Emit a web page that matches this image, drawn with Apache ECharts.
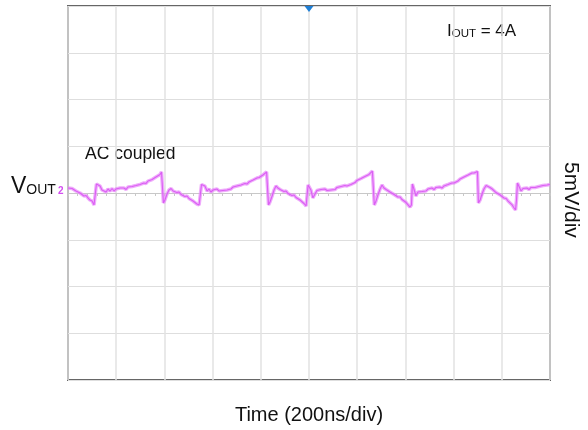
<!DOCTYPE html>
<html>
<head>
<meta charset="utf-8">
<script src="https://cdn.jsdelivr.net/npm/echarts@6/dist/echarts.min.js"></script>
<style>
html,body{margin:0;padding:0;background:#fff;}
#chart{width:588px;height:430px;}
</style>
</head>
<body>
<div id="chart"></div>
<script>
// Time axis: 10 divisions x 200 ns; voltage axis: 8 divisions x 5 mV (AC coupled)
const timeNs = [0,8,17,25,33,41,50,58,66,75,83,91,100,108,112,118,124,133,141,149,158,166,174,183,191,199,207,216,224,232,241,249,257,266,274,282,290,299,307,315,324,332,340,349,357,365,373,382,388,392,396,402,411,419,428,436,444,452,461,469,477,485,494,502,510,519,527,535,544,548,554,560,568,577,585,593,602,610,618,627,635,643,651,660,668,676,685,693,701,709,718,726,734,743,751,759,768,776,784,793,801,809,817,824,828,832,838,847,855,863,871,880,888,896,905,913,921,929,938,946,954,963,971,979,988,992,996,1002,1008,1016,1025,1033,1041,1050,1058,1066,1075,1083,1091,1099,1108,1116,1124,1133,1141,1149,1158,1166,1174,1182,1191,1199,1207,1216,1224,1232,1240,1249,1257,1263,1267,1271,1278,1286,1295,1303,1311,1320,1328,1336,1344,1353,1361,1369,1378,1386,1394,1403,1411,1419,1425,1429,1436,1444,1452,1460,1469,1477,1485,1494,1502,1510,1519,1527,1535,1543,1552,1560,1568,1577,1585,1593,1602,1610,1618,1627,1635,1643,1651,1660,1668,1676,1685,1693,1699,1703,1710,1718,1726,1735,1743,1751,1760,1768,1776,1784,1793,1801,1809,1818,1826,1834,1843,1851,1857,1861,1865,1872,1880,1888,1896,1904,1913,1921,1929,1938,1946,1954,1962,1971,1979,1988,1996,2000];
const voutMv = [0.53,0.37,0.48,0.32,0.21,0.27,0.0,-0.11,-0.32,-0.27,-0.53,-0.75,-0.86,-1.28,-1.07,0.96,1.12,0.75,0.32,0.53,0.11,0.43,0.21,0.48,0.21,0.43,0.27,0.53,0.32,0.53,0.37,0.64,0.48,0.70,0.53,0.80,0.70,0.91,0.86,1.07,1.02,1.28,1.23,1.44,1.50,1.71,1.82,1.98,2.25,2.14,-1.07,-0.75,-0.11,0.32,0.48,0.21,0.27,0.05,0.11,-0.16,-0.11,-0.37,-0.32,-0.59,-0.53,-0.86,-0.91,-1.18,-1.28,-1.07,0.91,1.12,0.75,0.21,0.43,0.11,0.32,0.16,0.43,0.21,0.37,0.27,0.48,0.32,0.53,0.43,0.64,0.53,0.75,0.64,0.86,0.80,1.02,0.96,1.18,1.18,1.39,1.44,1.60,1.66,1.82,1.93,2.03,2.25,2.14,-1.28,-0.96,-0.32,0.32,0.75,0.53,0.37,0.43,0.16,0.21,-0.05,0.0,-0.27,-0.21,-0.48,-0.48,-0.75,-0.86,-1.12,-1.39,-1.18,0.86,1.02,0.32,-0.53,-0.11,0.27,0.16,0.37,0.21,0.43,0.27,0.48,0.32,0.53,0.37,0.59,0.48,0.70,0.59,0.80,0.75,0.96,0.91,1.12,1.12,1.34,1.34,1.55,1.60,1.76,1.87,1.98,2.14,2.35,2.25,-1.28,-0.86,-0.21,0.43,0.86,0.53,0.37,0.32,0.11,0.11,-0.16,-0.16,-0.43,-0.43,-0.70,-0.75,-1.02,-1.18,-1.50,-1.28,0.96,1.12,-0.32,0.11,0.32,0.16,0.37,0.21,0.43,0.32,0.53,0.37,0.59,0.43,0.64,0.53,0.75,0.70,0.91,0.86,1.07,1.07,1.28,1.28,1.50,1.55,1.71,1.82,1.93,1.98,2.14,2.14,2.25,2.30,-1.07,-0.75,-0.11,0.43,0.80,0.96,0.59,0.43,0.32,0.05,0.05,-0.21,-0.27,-0.53,-0.59,-0.86,-1.02,-1.28,-1.60,-1.82,-0.75,1.07,0.91,0.21,0.48,0.32,0.53,0.37,0.59,0.43,0.59,0.48,0.70,0.59,0.80,0.64,0.86,0.80,0.91];
const xMin = 0, xMax = 2000, xStep = 200;
const yMin = -20, yMax = 20, yStep = 5;
const triggerMarker = [1000, 20];

const traceData = timeNs.map((t, i) => [t, voutMv[i]]);

const chart = echarts.init(document.getElementById('chart'), null, {renderer: 'canvas'});
const font = '"Liberation Sans", Arial, sans-serif';

chart.setOption({
  backgroundColor: '#fff',
  animation: false,
  grid: {left: 68, right: 38, top: 6, bottom: 50, containLabel: false, outerBoundsMode: 'none',
         show: true, borderColor: '#666666', borderWidth: 2, backgroundColor: 'transparent'},
  xAxis: [
    {
      type: 'value', min: xMin, max: xMax, interval: xStep,
      axisLine: {show: false, onZero: false},
      axisTick: {show: false}, axisLabel: {show: false},
      splitLine: {show: true, lineStyle: {color: '#e2e2e2', width: 1.5}},
      name: 'Time (200ns/div)', nameLocation: 'middle', nameGap: 25,
      nameTextStyle: {fontFamily: font, fontSize: 20, color: '#111'}
    },
    {
      type: 'value', min: xMin, max: xMax, interval: xStep,
      axisLine: {show: true, onZero: true, lineStyle: {color: '#c8c8c8', width: 1}},
      axisTick: {show: true, inside: true, length: 3, lineStyle: {color: '#c8c8c8'}},
      minorTick: {show: true, splitNumber: 5, length: 3, lineStyle: {color: '#c8c8c8'}},
      axisLabel: {show: false}, splitLine: {show: false}
    }
  ],
  yAxis: [
    {
      type: 'value', min: yMin, max: yMax, interval: yStep,
      axisLine: {show: false, onZero: false},
      axisTick: {show: false}, axisLabel: {show: false},
      splitLine: {show: true, lineStyle: {color: '#dedede', width: 1}}
    }
  ],
  series: [
    {
      type: 'line', xAxisIndex: 0, yAxisIndex: 0,
      data: traceData, showSymbol: false, symbol: 'none',
      lineStyle: {color: '#e88af9', width: 3.5, opacity: 0.7},
      z: 3, silent: true
    },
    {
      type: 'line', xAxisIndex: 0, yAxisIndex: 0,
      data: traceData, showSymbol: false, symbol: 'none',
      lineStyle: {color: '#db5ef4', width: 1.1},
      z: 4, silent: true,
      markPoint: {
        symbol: 'triangle', symbolSize: [9, 6], symbolRotate: 180, symbolOffset: [0, 3],
        itemStyle: {color: '#1f7fd6'}, label: {show: false},
        data: [{coord: triggerMarker}]
      }
    }
  ],
  graphic: [
    {type: 'text', left: 11, top: 175, style: {
      text: '{v|V}{s|OUT}', fill: '#111',
      rich: {v: {fontFamily: font, fontSize: 23, fill: '#111'}, s: {fontFamily: font, fontSize: 14, fill: '#111', padding: [8, 0, 0, 0]}}
    }},
    {type: 'text', left: 58, top: 186, style: {text: '2', fontFamily: font, fontSize: 10, fontWeight: 'bold', fill: '#d34ff0'}},
    {type: 'text', left: 85, top: 145, style: {text: 'AC coupled', fontFamily: font, fontSize: 17.5, fill: '#111'}},
    {type: 'text', left: 447, top: 23, style: {
      text: '{v|I}{s|OUT}{v| = 4A}',
      rich: {v: {fontFamily: font, fontSize: 17, fill: '#111'}, s: {fontFamily: font, fontSize: 11.5, fill: '#111', padding: [5, 0, 0, 0]}}
    }},
    {type: 'text', x: 571, y: 162, rotation: -Math.PI / 2, style: {text: '5mV/div', fontFamily: font, fontSize: 21, fill: '#111', textAlign: 'left', textVerticalAlign: 'middle'}}
  ]
});
</script>
</body>
</html>
